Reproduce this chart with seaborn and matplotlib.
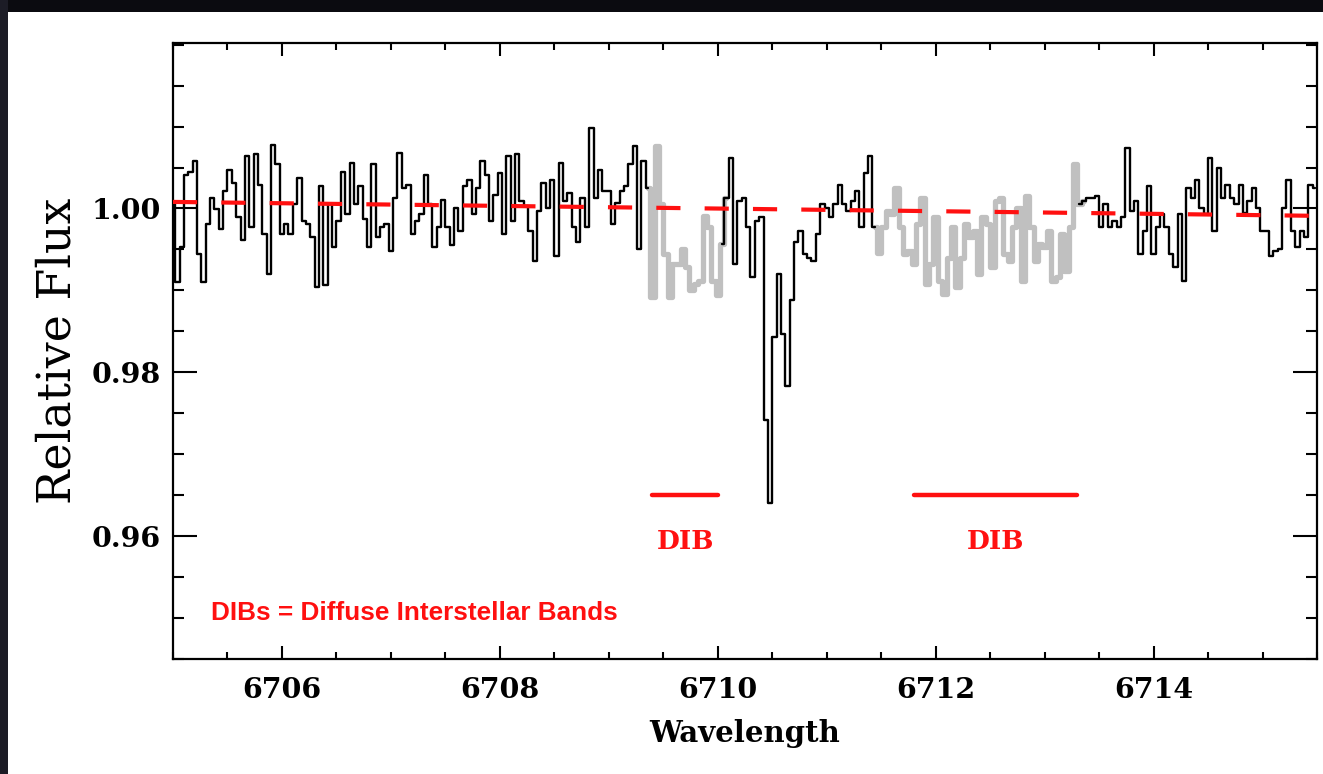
import numpy as np
import pandas as pd
import matplotlib
matplotlib.use("Agg")
import matplotlib.pyplot as plt
from matplotlib.patches import Rectangle
from matplotlib.ticker import MultipleLocator, FixedLocator
import seaborn as sns

# ---------------- data ----------------
wave_start = 6705.0
wave_step = 0.04

flux_a = [1.0005, 0.9910, 0.9953, 1.0041, 1.0045, 1.0058, 0.9944, 0.9910, 0.9981, 1.0013,
          0.9999, 0.9975, 1.0021, 1.0047, 1.0031, 0.9989, 0.9961, 1.0064, 0.9977, 1.0066,
          1.0029, 0.9969, 0.9920, 1.0078, 1.0054, 0.9969, 0.9981, 0.9969, 1.0005, 1.0037,
          0.9985, 0.9981, 0.9965, 0.9904, 1.0027, 0.9906, 1.0005, 0.9953, 0.9985, 1.0045,
          0.9993, 1.0056, 1.0005, 1.0027, 0.9987, 0.9953, 1.0054, 0.9965, 0.9977, 0.9981,
          0.9948, 1.0013, 1.0068, 1.0025, 1.0029]
flux_b = [0.9969, 0.9985, 0.9993, 1.0041, 1.0005, 0.9953, 0.9977, 1.0010, 0.9977, 0.9955,
          1.0001, 0.9973, 1.0027, 1.0035, 0.9993, 1.0025, 1.0058, 1.0041, 0.9985, 1.0017,
          1.0043, 0.9969, 1.0064, 0.9985, 1.0066, 1.0009, 1.0003, 0.9973, 0.9936, 0.9997,
          1.0031, 1.0001, 1.0035, 0.9942, 1.0056, 1.0009, 1.0019, 0.9977, 0.9959, 1.0013,
          0.9977, 1.0098, 1.0013, 1.0047, 1.0021, 1.0021, 0.9981, 1.0007, 1.0021, 1.0027,
          1.0054, 1.0076, 0.9951]
flux_c = [1.0058, 1.0025, 0.9892, 1.0076, 1.0005, 0.9944, 0.9892, 0.9932, 0.9932, 0.9951,
          0.9928, 0.9900, 0.9908, 0.9912, 0.9991, 0.9977, 0.9912, 0.9894, 0.9957, 1.0013,
          1.0062, 0.9932, 1.0009, 1.0013, 0.9977, 0.9916, 0.9985, 0.9989, 0.9742, 0.9641,
          0.9843, 0.9920, 0.9847, 0.9783, 0.9888, 0.9959, 0.9973, 0.9944, 0.9940, 0.9936,
          0.9969, 1.0005, 1.0001, 0.9989, 1.0005, 1.0029, 1.0005, 0.9997, 1.0009, 1.0021]
flux_d = [0.9977, 1.0043, 1.0064, 0.9977, 0.9946, 0.9977, 0.9997, 0.9993, 1.0025, 0.9977,
          0.9944, 0.9948, 0.9932, 0.9981, 1.0013, 0.9908, 0.9932, 0.9989, 0.9912, 0.9896,
          0.9940, 0.9977, 0.9904, 0.9940, 0.9981, 0.9965, 0.9973, 0.9920, 0.9989, 0.9981,
          0.9928, 1.0009, 1.0013, 0.9944, 0.9936, 0.9977, 1.0001, 0.9912, 1.0015, 0.9977,
          0.9936, 0.9957, 0.9953, 0.9973, 0.9912, 0.9916, 0.9969, 0.9924, 0.9977, 1.0054,
          1.0005, 1.0009, 1.0013]
flux_e = [1.0013, 1.0015, 0.9977, 1.0005, 0.9977, 0.9985, 0.9977, 0.9989, 1.0074, 0.9997,
          1.0009, 0.9944, 0.9973, 1.0027, 0.9944, 0.9977, 0.9993, 0.9977, 0.9944, 0.9928,
          0.9993, 0.9912, 1.0025, 1.0013, 1.0035, 1.0001, 0.9993, 1.0062, 0.9973, 1.0050,
          1.0013, 1.0029, 1.0013, 1.0005, 1.0029, 0.9995, 1.0009, 1.0025, 1.0001, 0.9973,
          0.9973, 0.9942, 0.9948, 0.9951, 1.0001, 1.0035, 0.9973, 0.9953, 0.9973, 0.9965,
          1.0029, 1.0025]

# wavelength ranges of the spectrum shown in grey (DIB-affected)
grey_ranges = [(6709.34, 6710.06), (6711.42, 6713.34)]

# linear continuum fit
continuum_wave = [6705.0, 6715.5]
continuum_flux = [1.0008, 0.9991]

# DIB markers
dib_start = [6709.4, 6711.8]
dib_end = [6710.0, 6713.3]
dib_level = 0.965
dib_labels = ["DIB", "DIB"]

note_text = "DIBs = Diffuse Interstellar Bands"
xlabel = "Wavelength"
ylabel = "Relative Flux"
xticks = [6706, 6708, 6710, 6712, 6714]
yticks = [0.96, 0.98, 1.00]
ytick_labels = ["0.96", "0.98", "1.00"]

# ---------------- build frame ----------------
flux = np.array(flux_a + flux_b + flux_c + flux_d + flux_e)
wave = wave_start + wave_step * np.arange(len(flux))
df = pd.DataFrame({"wave": wave, "flux": flux})

# ---------------- style ----------------
sns.set_theme(style="ticks")
plt.rcParams["font.family"] = ["DejaVu Serif", "DejaVu Sans"]

fig = plt.figure(figsize=(13.23, 7.74), dpi=100)
fig.patch.set_facecolor("white")
ax = fig.add_axes([173 / 1323, 1 - 659 / 774, (1317 - 173) / 1323, (659 - 43) / 774])

# dark screenshot frame
fig.patches.append(Rectangle((0, 1 - 12 / 774), 1, 12 / 774, transform=fig.transFigure,
                             facecolor="#0b0b10", edgecolor="none", zorder=-5))
fig.patches.append(Rectangle((0, 0), 8 / 1323, 1, transform=fig.transFigure,
                             facecolor="#1c1c26", edgecolor="none", zorder=-5))

# split spectrum into black / grey pieces (sharing boundary samples)
eps = 1e-6
in_grey = np.zeros(len(df), dtype=bool)
for lo, hi in grey_ranges:
    in_grey |= (df["wave"] >= lo - eps) & (df["wave"] <= hi + eps)

segments = []
start = 0
for i in range(1, len(df) + 1):
    if i == len(df) or in_grey[i] != in_grey[start]:
        stop = min(i, len(df) - 1)
        segments.append((start, stop, in_grey[start]))
        start = i
for s, e, g in segments:
    seg = df.iloc[max(s - 1, 0) if not g else s: e + 1]
    if g:
        sns.lineplot(data=seg, x="wave", y="flux", ax=ax, color="#c0c0c0", lw=3.8,
                     drawstyle="steps-mid", estimator=None, sort=False, zorder=2)
    else:
        sns.lineplot(data=seg, x="wave", y="flux", ax=ax, color="black", lw=1.7,
                     drawstyle="steps-mid", estimator=None, sort=False, zorder=3)

# continuum (red dashed)
sns.lineplot(x=continuum_wave, y=continuum_flux, ax=ax, color="#ff1010", lw=3.0,
             estimator=None, zorder=4)
ax.lines[-1].set_dashes([5.8, 5.8])

# DIB bars and labels
for x0, x1, lab in zip(dib_start, dib_end, dib_labels):
    sns.lineplot(x=[x0, x1], y=[dib_level, dib_level], ax=ax, color="#ff1010", lw=3.2,
                 estimator=None, zorder=4)
    ax.text((x0 + x1) / 2, dib_level - 0.0057, lab, color="#ff1010", fontsize=19,
            fontweight="bold", ha="center", va="center", family="DejaVu Serif")

ax.text(0.0335, 0.0747, note_text, transform=ax.transAxes, color="#ff1010",
        fontsize=18.8, fontweight="bold", family="Liberation Sans", ha="left", va="center")

# axes limits and ticks
ax.set_xlim(6705.0, 6715.5)
ax.set_ylim(0.945, 1.0202)
ax.xaxis.set_major_locator(FixedLocator(xticks))
ax.xaxis.set_minor_locator(MultipleLocator(0.5))
ax.yaxis.set_major_locator(FixedLocator(yticks))
ax.yaxis.set_minor_locator(MultipleLocator(0.005))
ax.set_xticklabels([str(t) for t in xticks])
ax.set_yticklabels(ytick_labels)

for lab in ax.get_xticklabels() + ax.get_yticklabels():
    lab.set_fontweight("bold")
    lab.set_fontsize(20.5)
    lab.set_color("black")

ax.tick_params(axis="both", which="both", direction="in", top=True, right=True,
               color="black", width=1.5)
ax.tick_params(axis="x", which="major", length=9.4, pad=13)
ax.tick_params(axis="x", which="minor", length=5)
ax.tick_params(axis="y", which="major", length=17, pad=9)
ax.tick_params(axis="y", which="minor", length=8)

for sp in ax.spines.values():
    sp.set_visible(True)
    sp.set_color("black")
    sp.set_linewidth(1.6)

ax.set_xlabel(xlabel, fontsize=21, fontweight="bold", color="black")
ax.set_ylabel(ylabel, fontsize=33, color="black")
ax.xaxis.set_label_coords(0.5, -0.097)
ax.yaxis.set_label_coords(-0.081, 0.5)
ax.set_facecolor("white")

fig.savefig("out.png", dpi=100, facecolor="white")
